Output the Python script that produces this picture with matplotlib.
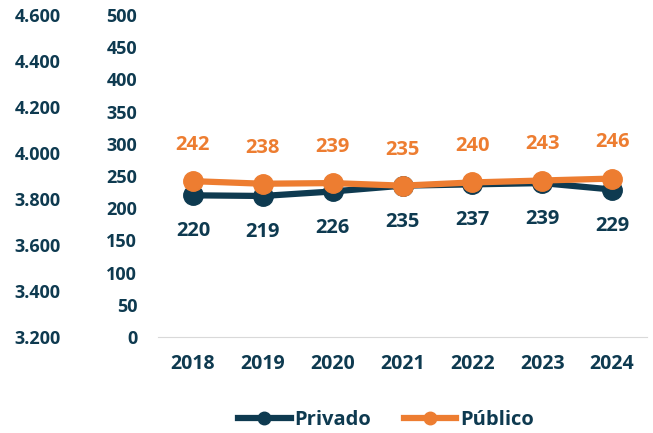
import matplotlib
matplotlib.use("Agg")
import matplotlib.pyplot as plt
from matplotlib.lines import Line2D

years = ["2018", "2019", "2020", "2021", "2022", "2023", "2024"]
privado = [220, 219, 226, 235, 237, 239, 229]
publico = [242, 238, 239, 235, 240, 243, 246]
left_ticks = [3200, 3400, 3600, 3800, 4000, 4200, 4400, 4600]
right_ticks = list(range(0, 501, 50))

DARK = "#0e3a50"
ORANGE = "#ed7d31"
FONT = "Open Sans"

plt.rcParams["font.family"] = [FONT, "DejaVu Sans"]
plt.rcParams["font.weight"] = "bold"

fig = plt.figure(figsize=(6.53, 4.33), dpi=100)
ax = fig.add_axes([158/653, 1-337/433, (647-158)/653, (337-15)/433])
x = list(range(len(years)))

ax.plot(x, privado, color=DARK, lw=4.5, marker="o", ms=14, zorder=3, solid_capstyle="round")
ax.plot(x, publico, color=ORANGE, lw=4.5, marker="o", ms=14, zorder=4, solid_capstyle="round")

for xi, v in zip(x, privado):
    ax.annotate(str(v), (xi, v), xytext=(0, -26), textcoords="offset points",
                ha="center", va="center", color=DARK, fontsize=14.5, fontweight="bold")
for xi, v in zip(x, publico):
    ax.annotate(str(v), (xi, v), xytext=(0, 26), textcoords="offset points",
                ha="center", va="center", color=ORANGE, fontsize=14.5, fontweight="bold")

ax.set_xlim(-0.5, len(years) - 0.5)
ax.set_ylim(0, 500)
ax.set_yticks(right_ticks)
ax.set_yticklabels([str(t) for t in right_ticks])
ax.set_xticks(x)
ax.set_xticklabels(years)
for s in ["top", "right", "left"]:
    ax.spines[s].set_visible(False)
ax.spines["bottom"].set_color("#d9d9d9")
ax.tick_params(axis="y", length=0, pad=15, labelsize=13, labelcolor=DARK)
ax.tick_params(axis="x", length=0, pad=12, labelsize=14, labelcolor=DARK)

ax2 = ax.twinx()
ax2.set_ylim(3200, 4600)
ax2.set_yticks(left_ticks)
ax2.set_yticklabels([f"{t/1000:.3f}" for t in left_ticks])
ax2.yaxis.tick_left()
for s in ["top", "right", "left", "bottom"]:
    ax2.spines[s].set_visible(False)
ax2.tick_params(axis="y", length=0, pad=70, labelsize=13, labelcolor=DARK)
for lab in ax.get_yticklabels() + ax2.get_yticklabels() + ax.get_xticklabels():
    lab.set_fontweight("bold")

handles = [Line2D([0], [0], color=DARK, lw=4.5, marker="o", ms=9),
           Line2D([0], [0], color=ORANGE, lw=4.5, marker="o", ms=9)]
leg = fig.legend(handles, ["Privado", "Público"], loc="center", bbox_to_anchor=(386/653, 1-420/433),
                 ncol=2, frameon=False, handlelength=2.6, handletextpad=0.2, columnspacing=1.6,
                 prop={"family": FONT, "weight": "bold", "size": 14.5})
for t in leg.get_texts():
    t.set_color(DARK)

fig.savefig("out.png", dpi=100)
